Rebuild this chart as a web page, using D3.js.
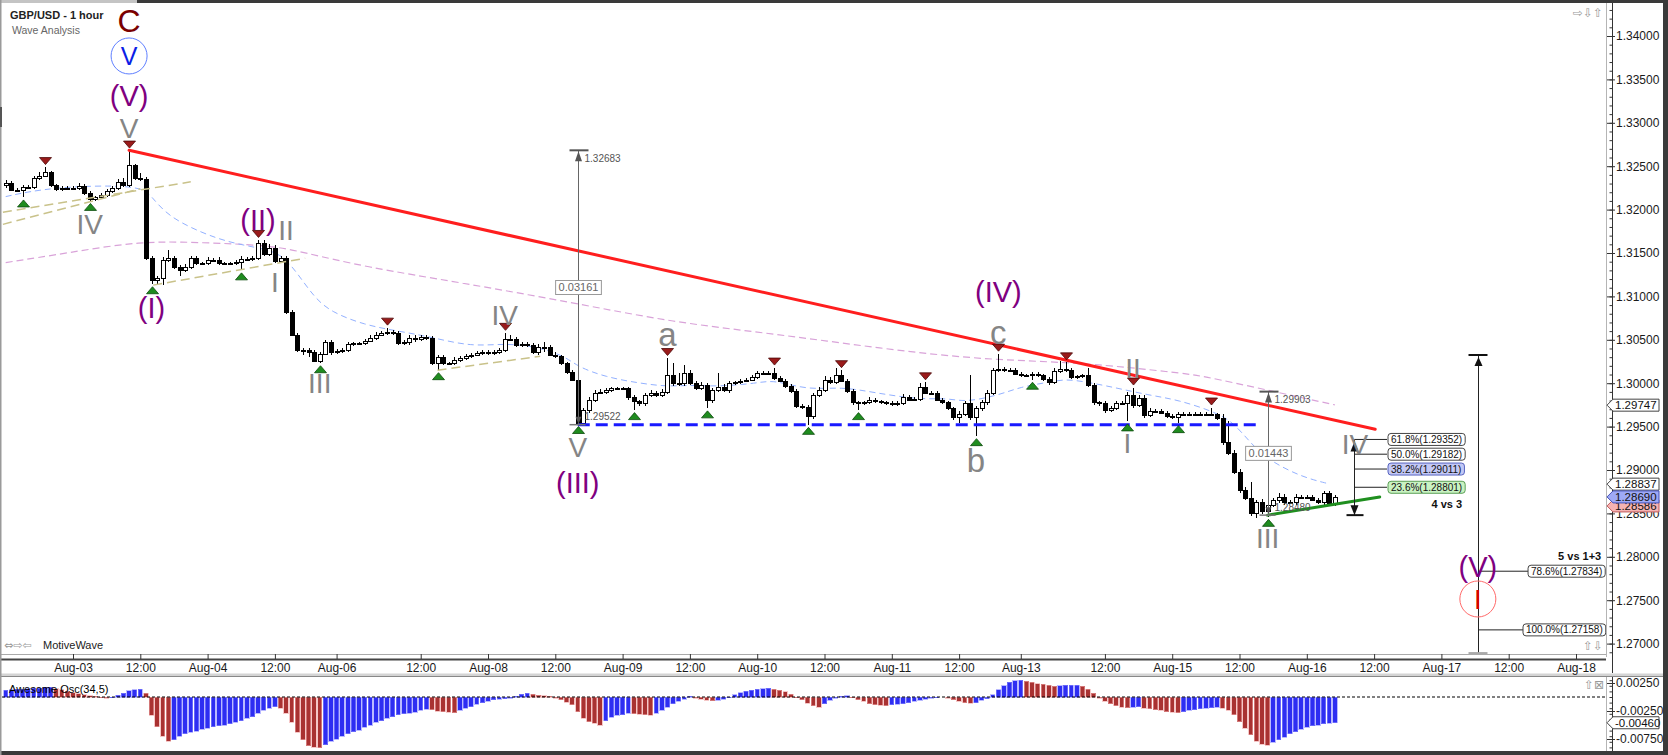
<!DOCTYPE html>
<html>
<head>
<meta charset="utf-8">
<title>GBP/USD - 1 hour</title>
<script src="https://cdn.jsdelivr.net/npm/d3@7/dist/d3.min.js"></script>
<style>
  html, body { margin: 0; padding: 0; background: #fff; }
  svg { display: block; }
</style>
</head>
<body>
<div id="chart"></div>
<script>
// hourly bars, index 0 = Aug-03 00:00, weekend hours skipped
const firstBar = -12;
const firstOpen = 1.3228;

const closes = [
  1.3231, 1.3223, 1.3223, 1.3226, 1.3226, 1.3236, 1.3239, 1.3243, 1.3228, 1.3224, 1.3225, 1.3225,
  1.3225, 1.3227, 1.3219, 1.3212, 1.3214, 1.3217, 1.3221, 1.3225, 1.3232, 1.3228, 1.3251, 1.3236,
  1.3235, 1.3144, 1.3119, 1.3121, 1.3142, 1.3144, 1.3134, 1.3130, 1.3134, 1.3144, 1.3138, 1.3138,
  1.3142, 1.3142, 1.3138, 1.3138, 1.3138, 1.3140, 1.3143, 1.3143, 1.3144, 1.3162, 1.3149, 1.3156,
  1.3141, 1.3144, 1.3082, 1.3056, 1.3038, 1.3038, 1.3036, 1.3026, 1.3034, 1.3047, 1.3036,
  1.3037, 1.3038, 1.3045,
  1.3046, 1.3046, 1.3049, 1.3052, 1.3056, 1.3058, 1.3059, 1.3058, 1.3046, 1.3047, 1.3052, 1.3051,
  1.3053, 1.3052, 1.3023, 1.3030, 1.3023, 1.3023, 1.3027, 1.3029, 1.3031, 1.3033, 1.3035, 1.3036,
  1.3035, 1.3036, 1.3038, 1.3051, 1.3051, 1.3044, 1.3045, 1.3044, 1.3036, 1.3042, 1.3042, 1.3033,
  1.3031, 1.3023, 1.3013, 1.3004, 1.2954, 1.2969, 1.2981, 1.2989, 1.2990, 1.2992, 1.2994, 1.2994,
  1.2994, 1.2984, 1.2979, 1.2977, 1.2986, 1.2989, 1.2986, 1.2990, 1.3009, 1.3000, 1.3000, 1.3012,
  1.3000, 1.2994, 1.2998, 1.2981, 1.2992, 1.2996, 1.2992, 1.3000, 1.3001, 1.3003, 1.3004, 1.3007,
  1.3012, 1.3012, 1.3012, 1.3006, 1.3003, 1.2997, 1.2991, 1.2974, 1.2973, 1.2962, 1.2986, 1.2992,
  1.3004, 1.3001, 1.3009, 1.3003, 1.2991, 1.2978, 1.2977, 1.2978, 1.2981, 1.2979, 1.2978, 1.2977,
  1.2976, 1.2977, 1.2984, 1.2981, 1.2982, 1.2996, 1.2989, 1.2989, 1.2981, 1.2978, 1.2971, 1.2961,
  1.2965, 1.2977, 1.2961, 1.2971, 1.2978, 1.2989, 1.3015, 1.3016, 1.3015, 1.3015, 1.3011,
  1.3009, 1.3009, 1.3011,
  1.3009, 1.3005, 1.3001, 1.3014, 1.3016, 1.3015, 1.3007, 1.3008, 1.3009, 1.2998, 1.2978, 1.2977,
  1.2969, 1.2971, 1.2977, 1.2977, 1.2986, 1.2975, 1.2983, 1.2963, 1.2968, 1.2968, 1.2966, 1.2962,
  1.2961, 1.2964, 1.2965, 1.2965, 1.2965, 1.2965, 1.2964, 1.2964, 1.2960, 1.2932, 1.2920, 1.2898,
  1.2877, 1.2868, 1.2850, 1.2863, 1.2853, 1.2860, 1.2865, 1.2869, 1.2863, 1.2863, 1.2869, 1.2869,
  1.2869, 1.2866, 1.2863, 1.2873, 1.2862, 1.2869
];

// wick lengths beyond the body, in pips
const upWicks = [
  3, 2, 2, 2, 2, 3, 4, 6, 2, 2, 2, 2,
  2, 4, 2, 2, 2, 2, 3, 2, 3, 4, 17, 2,
  6, 2, 2, 2, 3, 9, 2, 2, 3, 3, 3, 2,
  3, 2, 3, 2, 2, 2, 3, 2, 3, 3, 3, 4,
  3, 3, 2, 2, 2, 2, 2, 2, 2, 3, 3, 2,
  2, 3, 2, 2, 2, 3, 3, 2, 5, 2, 2, 3,
  3, 3, 3, 2, 2, 3, 2, 2, 3, 2, 3, 2,
  2, 2, 2, 2, 2, 7, 5, 2, 3, 2, 2, 3,
  5, 2, 3, 2, 2, 2, 2, 3, 3, 3, 3, 2,
  2, 2, 2, 2, 2, 2, 3, 3, 2, 3, 20, 14,
  12, 9, 3, 2, 3, 2, 3, 16, 3, 3, 2, 2,
  2, 3, 2, 2, 2, 6, 2, 2, 2, 2, 2, 2,
  3, 4, 4, 3, 8, 6, 2, 2, 2, 2, 3, 2,
  2, 2, 2, 2, 3, 2, 2, 4, 5, 2, 2, 2,
  2, 2, 3, 3, 32, 3, 3, 3, 3, 18, 3, 3,
  2, 2, 2, 2, 2, 2, 2, 3, 10, 8, 2, 2,
  2, 9, 2, 2, 2, 3, 3, 2, 4, 9, 3, 3,
  3, 2, 2, 2, 2, 3, 2, 2, 2, 2, 2, 8,
  2, 4, 25, 3, 3, 3, 18, 3, 4, 3, 3, 4,
  3, 3, 3, 2, 2, 2, 2, 3, 3, 2
];
const downWicks = [
  3, 2, 3, 9, 2, 2, 2, 2, 2, 2, 2, 2,
  2, 2, 2, 2, 2, 2, 2, 2, 2, 2, 2, 2,
  2, 2, 5, 6, 8, 2, 2, 6, 2, 2, 2, 2,
  2, 2, 2, 2, 2, 2, 10, 2, 2, 2, 3, 3,
  2, 3, 2, 2, 2, 5, 6, 2, 3, 2, 3, 2,
  2, 2, 2, 2, 2, 2, 2, 2, 2, 2, 2, 2,
  3, 3, 2, 2, 2, 8, 2, 2, 2, 2, 2, 2,
  2, 2, 2, 2, 2, 2, 2, 2, 2, 2, 2, 3,
  6, 2, 2, 2, 2, 2, 1, 1, 3, 3, 2, 2,
  2, 2, 2, 3, 10, 3, 3, 2, 2, 2, 3, 3,
  3, 3, 2, 2, 2, 10, 4, 2, 2, 3, 2, 2,
  2, 2, 2, 2, 2, 2, 2, 2, 2, 2, 3, 10,
  3, 2, 2, 2, 2, 2, 2, 3, 8, 2, 2, 2,
  2, 2, 2, 2, 2, 2, 2, 2, 2, 2, 2, 2,
  2, 3, 7, 3, 3, 22, 3, 3, 3, 2, 2, 2,
  2, 2, 2, 5, 2, 2, 3, 2, 2, 2, 2, 2,
  2, 2, 3, 3, 3, 2, 2, 2, 21, 3, 2, 3,
  2, 2, 2, 2, 2, 7, 2, 2, 2, 2, 2, 2,
  2, 3, 3, 3, 3, 3, 3, 5, 4, 7, 3, 3,
  3, 2, 3, 2, 2, 2, 2, 3, 3, 3
];

// Awesome Osc(34,5), one value per bar
const awesomeOsc = [
  0.0012, 0.0013, 0.0014, 0.0014, 0.0015, 0.0016, 0.0016, 0.0017, 0.0017, 0.0015, 0.0013, 0.0010,
  0.0008, 0.0006, 0.0004, 0.0002, 0.0001, -0.0001, -0.0002, -0.0001, 0.0003, 0.0007, 0.0011, 0.0013,
  0.0014, 0.0007, -0.0033, -0.0053, -0.0070, -0.0079, -0.0076, -0.0070, -0.0066, -0.0063, -0.0061, -0.0058,
  -0.0056, -0.0053, -0.0051, -0.0050, -0.0048, -0.0045, -0.0042, -0.0038, -0.0035, -0.0029, -0.0024, -0.0020,
  -0.0017, -0.0020, -0.0029, -0.0045, -0.0063, -0.0076, -0.0087, -0.0090, -0.0091, -0.0085, -0.0079, -0.0075,
  -0.0070, -0.0066, -0.0062, -0.0059, -0.0054, -0.0050, -0.0045, -0.0042, -0.0038, -0.0035, -0.0032, -0.0030,
  -0.0029, -0.0027, -0.0024, -0.0022, -0.0023, -0.0025, -0.0026, -0.0027, -0.0028, -0.0024, -0.0020, -0.0017,
  -0.0013, -0.0010, -0.0008, -0.0005, -0.0004, -0.0003, -0.0002, 0.0001, 0.0005, 0.0007, 0.0005, 0.0003,
  0.0002, 0.0001, -0.0002, -0.0005, -0.0009, -0.0014, -0.0026, -0.0038, -0.0044, -0.0047, -0.0050, -0.0042,
  -0.0036, -0.0033, -0.0032, -0.0029, -0.0030, -0.0031, -0.0032, -0.0033, -0.0029, -0.0024, -0.0018, -0.0012,
  -0.0008, -0.0004, 0.0001, -0.0002, -0.0004, -0.0006, -0.0007, -0.0006, -0.0004, -0.0001, 0.0004, 0.0008,
  0.0010, 0.0012, 0.0014, 0.0015, 0.0016, 0.0014, 0.0012, 0.0009, 0.0005, -0.0001, -0.0005, -0.0011,
  -0.0016, -0.0018, -0.0012, -0.0006, -0.0002, 0.0001, 0.0002, -0.0001, -0.0005, -0.0008, -0.0012, -0.0014,
  -0.0015, -0.0016, -0.0014, -0.0013, -0.0012, -0.0010, -0.0008, -0.0006, -0.0004, -0.0002, -0.0001, 0.0000,
  -0.0002, -0.0005, -0.0008, -0.0010, -0.0011, -0.0010, -0.0006, -0.0003, 0.0004, 0.0013, 0.0020, 0.0026,
  0.0029, 0.0030, 0.0028, 0.0026, 0.0024, 0.0023, 0.0021, 0.0019, 0.0020, 0.0021, 0.0021, 0.0021,
  0.0019, 0.0014, 0.0007, -0.0002, -0.0008, -0.0012, -0.0016, -0.0018, -0.0019, -0.0018, -0.0017, -0.0020,
  -0.0021, -0.0023, -0.0024, -0.0026, -0.0027, -0.0028, -0.0026, -0.0024, -0.0023, -0.0021, -0.0020, -0.0019,
  -0.0018, -0.0020, -0.0024, -0.0032, -0.0044, -0.0056, -0.0067, -0.0079, -0.0084, -0.0086, -0.0081, -0.0076,
  -0.0072, -0.0066, -0.0062, -0.0058, -0.0054, -0.0051, -0.0050, -0.0048, -0.0047, -0.0046
];

// moving averages: [bar, price]
const fastMA = [
  [-12, 1.3215], [-4, 1.3226], [12, 1.3229], [14, 1.3215], [17, 1.3192], [23, 1.3173], [28, 1.3162],
  [33, 1.3156], [37, 1.3150], [40, 1.3127], [43, 1.3099], [46, 1.3082], [52, 1.3067], [58, 1.3060],
  [64, 1.3053], [71, 1.3042], [77, 1.3046], [83, 1.3042], [88, 1.3030], [90, 1.3019], [95, 1.3007],
  [101, 1.3000], [106, 1.2996], [110, 1.2998], [115, 1.2996], [122, 1.3000], [125, 1.3004], [131, 1.2992],
  [137, 1.2996], [143, 1.2989], [151, 1.2981], [156, 1.2983], [159, 1.2978], [165, 1.2986], [169, 1.2996],
  [174, 1.3001], [177, 1.3005], [181, 1.3001], [185, 1.2996], [192, 1.2986], [197, 1.2981], [204, 1.2966],
  [207, 1.2954], [210, 1.2931], [213, 1.2912], [219, 1.2892], [224, 1.2884]
];
const slowMA = [
  [-12, 1.3139], [-1, 1.3150], [12, 1.3164], [23, 1.3162], [35, 1.3159], [41, 1.3151], [52, 1.3134],
  [69, 1.3116], [89, 1.3093], [107, 1.3070], [125, 1.3057], [144, 1.3040], [162, 1.3027], [180, 1.3024],
  [197, 1.3012], [201, 1.3009], [213, 1.2992], [225, 1.2975]
];

const xTicks = [
  { i: 0, label: 'Aug-03' }, { i: 12, label: '12:00' }, { i: 24, label: 'Aug-04' }, { i: 36, label: '12:00' },
  { i: 47, label: 'Aug-06' }, { i: 62, label: '12:00' }, { i: 74, label: 'Aug-08' }, { i: 86, label: '12:00' },
  { i: 98, label: 'Aug-09' }, { i: 110, label: '12:00' }, { i: 122, label: 'Aug-10' }, { i: 134, label: '12:00' },
  { i: 146, label: 'Aug-11' }, { i: 158, label: '12:00' }, { i: 169, label: 'Aug-13' }, { i: 184, label: '12:00' },
  { i: 196, label: 'Aug-15' }, { i: 208, label: '12:00' }, { i: 220, label: 'Aug-16' }, { i: 232, label: '12:00' },
  { i: 244, label: 'Aug-17' }, { i: 256, label: '12:00' }, { i: 268, label: 'Aug-18' }
];
const priceTicks = [1.270, 1.275, 1.280, 1.285, 1.290, 1.295, 1.300, 1.305, 1.310, 1.315, 1.320, 1.325, 1.330, 1.335, 1.340];
const oscTicks = [0.0025, -0.0025, -0.0075];

const pivots = [
  { i: -5, type: 'high' }, { i: 10, type: 'high' }, { i: 33, type: 'high' }, { i: 56, type: 'high' },
  { i: 77, type: 'high' }, { i: 106, type: 'high' }, { i: 125, type: 'high' }, { i: 137, type: 'high' },
  { i: 152, type: 'high' }, { i: 165, type: 'high' }, { i: 177, type: 'high' }, { i: 189, type: 'high' },
  { i: 203, type: 'high' },
  { i: -9, type: 'low' }, { i: 3, type: 'low' }, { i: 14, type: 'low' }, { i: 30, type: 'low' },
  { i: 44, type: 'low' }, { i: 65, type: 'low' }, { i: 90, type: 'low' }, { i: 100, type: 'low' },
  { i: 113, type: 'low' }, { i: 131, type: 'low' }, { i: 140, type: 'low' }, { i: 161, type: 'low' },
  { i: 171, type: 'low' }, { i: 188, type: 'low' }, { i: 197, type: 'low' }, { i: 213, type: 'low' }
];

const waveLabels = [
  { i: 10, p: 1.34184, text: 'C', degree: 'cycle' },
  { i: 10, p: 1.33770, text: 'V', degree: 'primary' },
  { i: 10, p: 1.33309, text: '(V)', degree: 'intermediate' },
  { i: 10, p: 1.32940, text: 'V', degree: 'minor' },
  { i: 3, p: 1.31834, text: 'IV', degree: 'minor' },
  { i: 14, p: 1.30866, text: '(I)', degree: 'intermediate' },
  { i: 33, p: 1.31880, text: '(II)', degree: 'intermediate' },
  { i: 38, p: 1.31765, text: 'II', degree: 'minor' },
  { i: 36, p: 1.31166, text: 'I', degree: 'minor' },
  { i: 44, p: 1.30002, text: 'III', degree: 'minor' },
  { i: 77, p: 1.30786, text: 'IV', degree: 'minor' },
  { i: 90, p: 1.29265, text: 'V', degree: 'minor' },
  { i: 90, p: 1.28850, text: '(III)', degree: 'intermediate' },
  { i: 106, p: 1.30532, text: 'a', degree: 'minor' },
  { i: 165, p: 1.31051, text: '(IV)', degree: 'intermediate' },
  { i: 165, p: 1.30555, text: 'c', degree: 'minor' },
  { i: 161, p: 1.29115, text: 'b', degree: 'minor' },
  { i: 189, p: 1.30175, text: 'II', degree: 'minor' },
  { i: 188, p: 1.29311, text: 'I', degree: 'minor' },
  { i: 213, p: 1.28216, text: 'III', degree: 'minor' },
  { i: 228.6, p: 1.29299, text: 'IV', degree: 'minor' },
  { i: 250.5, p: 1.27882, text: '(V)', degree: 'intermediate' },
  { i: 250.5, p: 1.27514, text: 'I', degree: 'next' }
];

const trendLines = [
  { kind: 'resistance', from: [10, 1.32683], to: [232.2, 1.29469] },
  { kind: 'support', from: [213, 1.28480], to: [233, 1.28690] }
];
const channelLines = [
  [[-12.5, 1.3197], [21, 1.3232]],
  [[-12.5, 1.3183], [12, 1.3224]],
  [[14.3, 1.3113], [41.4, 1.3144]],
  [[65, 1.3015], [83.3, 1.3031]]
];
const levels = [{ p: 1.29522, from: 90, to: 211.3 }];

const measures = [
  { i: 90, top: 1.32683, bottom: 1.29522, text: '0.03161' },
  { i: 213.1, top: 1.29903, bottom: 1.28480, text: '0.01443' }
];
const fibRetrace = {
  i: 228.4, end: 234.3, bottom: 1.28480,
  levels: [
    { label: '61.8%', p: 1.29352, tone: 'plain' },
    { label: '50.0%', p: 1.29182, tone: 'plain' },
    { label: '38.2%', p: 1.29011, tone: 'blue' },
    { label: '23.6%', p: 1.28801, tone: 'green' }
  ]
};
const fibExtension = {
  i: 250.5, top: 1.30325, bottom: 1.26891,
  levels: [
    { label: '78.6%', p: 1.27834, end: 259.45, tone: 'plain' },
    { label: '100.0%', p: 1.27158, end: 258.55, tone: 'plain' }
  ]
};
const fibNotes = [
  { text: '4 vs 3', i: 247.7, p: 1.28608 },
  { text: '5 vs 1+3', i: 272.5, p: 1.28009 }
];
const priceTags = [
  { p: 1.29747, tone: 'plain' }, { p: 1.28837, tone: 'plain' },
  { p: 1.28586, tone: 'ask' }, { p: 1.28690, tone: 'bid' }
];
const oscTags = [{ v: -0.0046, tone: 'plain' }];

// ---------------------------------------------------------------------------
const W = 1668, H = 755;
const FONT = '"Liberation Sans", Arial, Helvetica, sans-serif';
const plot = { left: 2, right: 1606, top: 3, bottom: 654 };
const oscBox = { top: 677, bottom: 751 };
const axisX = 1612;
const pip = 0.0001;

const x = d3.scaleLinear().domain([0, 268]).range([73, 1576]);
const y = d3.scaleLinear().domain([1.27, 1.34]).range([643.6, 36]);
const yo = d3.scaleLinear().domain([-0.0075, 0.0025]).range([739, 683]);

const bars = closes.map((c, k) => {
  const o = k ? closes[k - 1] : firstOpen;
  return {
    i: firstBar + k, o, c,
    h: Math.max(o, c) + upWicks[k] * pip,
    l: Math.min(o, c) - downWicks[k] * pip,
    ao: awesomeOsc[k],
    aoUp: k === 0 || awesomeOsc[k] >= awesomeOsc[k - 1]
  };
});
const barAt = i => bars[i - firstBar];

const waveStyle = {
  cycle: { color: '#7a0000', size: 32 },
  primary: { color: '#0b1ee6', size: 25, ring: '#5f7fff' },
  intermediate: { color: '#800080', size: 29 },
  minor: { color: '#858585', size: 28 },
  next: { color: '#d40000', size: 27, ring: '#ff6a6a' }
};
const tone = {
  plain: { fill: '#fff', stroke: '#444' },
  blue: { fill: '#c3c8f5', stroke: '#5663c0' },
  green: { fill: '#c9f2c2', stroke: '#5a9e55' },
  bid: { fill: '#9ea9f6', stroke: '#4451b8' },
  ask: { fill: '#f5b3b3', stroke: '#c05a5a' }
};

const svg = d3.select('#chart').append('svg')
  .attr('width', W).attr('height', H)
  .attr('font-family', FONT);

svg.append('rect').attr('width', W).attr('height', H).attr('fill', '#fff');

const defs = svg.append('defs');
defs.append('clipPath').attr('id', 'clip-main').append('rect')
  .attr('x', plot.left).attr('y', plot.top)
  .attr('width', plot.right - plot.left).attr('height', plot.bottom - plot.top);
defs.append('clipPath').attr('id', 'clip-osc').append('rect')
  .attr('x', plot.left).attr('y', oscBox.top)
  .attr('width', plot.right - plot.left).attr('height', oscBox.bottom - oscBox.top);

const main = svg.append('g').attr('clip-path', 'url(#clip-main)');

// moving averages
const maLine = d3.line().x(d => x(d[0])).y(d => y(d[1])).curve(d3.curveBasis);
main.append('path').attr('d', maLine(slowMA))
  .attr('fill', 'none').attr('stroke', '#d9a3d9').attr('stroke-width', 1.2).attr('stroke-dasharray', '7,4');
main.append('path').attr('d', maLine(fastMA))
  .attr('fill', 'none').attr('stroke', '#93b1ff').attr('stroke-width', 1).attr('stroke-dasharray', '6,4');

// candles
const candle = main.append('g').attr('shape-rendering', 'crispEdges')
  .selectAll('g').data(bars).join('g');
candle.append('line')
  .attr('x1', d => Math.round(x(d.i)) + 0.5).attr('x2', d => Math.round(x(d.i)) + 0.5)
  .attr('y1', d => y(d.h)).attr('y2', d => y(d.l))
  .attr('stroke', '#000');
candle.append('rect')
  .attr('x', d => Math.round(x(d.i)) - 1.5)
  .attr('width', 4)
  .attr('y', d => Math.round(y(Math.max(d.o, d.c))) + 0.5)
  .attr('height', d => Math.max(1, Math.round(y(Math.min(d.o, d.c))) - Math.round(y(Math.max(d.o, d.c)))))
  .attr('fill', d => d.c < d.o ? '#000' : '#fff')
  .attr('stroke', '#000');

// channel lines
main.selectAll('.channel').data(channelLines).join('line')
  .attr('x1', d => x(d[0][0])).attr('y1', d => y(d[0][1]))
  .attr('x2', d => x(d[1][0])).attr('y2', d => y(d[1][1]))
  .attr('stroke', '#c9c28a').attr('stroke-width', 1.5).attr('stroke-dasharray', '9,5');

// horizontal level
main.selectAll('.level').data(levels).join('line')
  .attr('x1', d => x(d.from)).attr('x2', d => x(d.to))
  .attr('y1', d => y(d.p)).attr('y2', d => y(d.p))
  .attr('stroke', '#1a1aff').attr('stroke-width', 3).attr('stroke-dasharray', '12,6');

// trend lines
main.selectAll('.trend').data(trendLines).join('line')
  .attr('x1', d => x(d.from[0])).attr('y1', d => y(d.from[1]))
  .attr('x2', d => x(d.to[0])).attr('y2', d => y(d.to[1]))
  .attr('stroke', d => d.kind === 'resistance' ? '#ff1e1e' : '#1f8f1f')
  .attr('stroke-width', 3).attr('stroke-linecap', 'round');

// pivot markers
main.selectAll('.pivot').data(pivots).join('path')
  .attr('d', d => {
    const b = barAt(d.i);
    const cx = Math.round(x(d.i)) + 0.5;
    if (d.type === 'high') {
      const cy = y(b.h) - 6;
      return `M${cx - 6},${cy - 3.5}L${cx + 6},${cy - 3.5}L${cx},${cy + 3.5}Z`;
    }
    const cy = y(b.l) + 6;
    return `M${cx - 6},${cy + 3.5}L${cx + 6},${cy + 3.5}L${cx},${cy - 3.5}Z`;
  })
  .attr('fill', d => d.type === 'high' ? '#9a1b1b' : '#1f8c1f')
  .attr('stroke', d => d.type === 'high' ? '#4a0606' : '#0b4a0b')
  .attr('stroke-width', 0.8);

// measurements
const meas = main.append('g');
measures.forEach(m => {
  const cx = Math.round(x(m.i)) + 0.5;
  const yt = y(m.top), yb = y(m.bottom);
  meas.append('line').attr('x1', cx).attr('x2', cx).attr('y1', yt).attr('y2', yb).attr('stroke', '#666');
  meas.append('line').attr('x1', cx - 9).attr('x2', cx + 10).attr('y1', yt).attr('y2', yt)
    .attr('stroke', '#555').attr('stroke-width', 2);
  meas.append('line').attr('x1', cx - 9).attr('x2', cx + 7).attr('y1', yb).attr('y2', yb)
    .attr('stroke', '#777').attr('stroke-width', 1.5);
  meas.append('path').attr('d', `M${cx},${yt + 1}L${cx - 3.5},${yt + 11}L${cx + 3.5},${yt + 11}Z`).attr('fill', '#555');
  meas.append('path').attr('d', `M${cx},${yb - 1}L${cx - 3},${yb - 8}L${cx + 3},${yb - 8}Z`).attr('fill', '#555');
  meas.append('text').attr('x', cx + 6).attr('y', yt + 8).attr('dy', '0.35em')
    .attr('font-size', 10).attr('fill', '#555').text(m.top.toFixed(5));
  meas.append('text').attr('x', cx + 6).attr('y', yb - 8).attr('dy', '0.35em')
    .attr('font-size', 10).attr('fill', '#555').text(m.bottom.toFixed(5));
  const my = (yt + yb) / 2;
  const box = meas.append('rect').attr('fill', '#fff').attr('stroke', '#999');
  const t = meas.append('text').attr('x', cx).attr('y', my).attr('dy', '0.36em')
    .attr('text-anchor', 'middle').attr('font-size', 11).attr('fill', '#666').text(m.text);
  const w = t.node().getComputedTextLength() + 6;
  box.attr('x', cx - w / 2).attr('y', my - 7).attr('width', w).attr('height', 14);
});

// fibonacci boxes
function fibBox(g, x0, yv, text, toneName) {
  const st = tone[toneName];
  const r = g.append('rect').attr('rx', 3).attr('ry', 3).attr('fill', st.fill).attr('stroke', st.stroke);
  const t = g.append('text').attr('x', x0 + 3).attr('y', yv).attr('dy', '0.36em')
    .attr('font-size', 10).attr('fill', '#111').text(text);
  const w = t.node().getComputedTextLength() + 6;
  r.attr('x', x0).attr('y', yv - 6).attr('width', w).attr('height', 12);
}

const fib = main.append('g');
{
  const fx = Math.round(x(fibRetrace.i)) + 0.5;
  const yt = y(fibRetrace.levels[0].p), yb = y(fibRetrace.bottom);
  fib.append('line').attr('x1', fx).attr('x2', fx).attr('y1', yt).attr('y2', yb).attr('stroke', '#222');
  fib.append('path').attr('d', `M${fx},${yt + 2}L${fx - 4},${yt + 12}L${fx + 4},${yt + 12}Z`).attr('fill', '#111');
  fib.append('path').attr('d', `M${fx},${yb}L${fx - 4},${yb - 10}L${fx + 4},${yb - 10}Z`).attr('fill', '#111');
  fib.append('line').attr('x1', fx - 8).attr('x2', fx + 9).attr('y1', yb).attr('y2', yb)
    .attr('stroke', '#111').attr('stroke-width', 2);
  const xe = x(fibRetrace.end);
  fibRetrace.levels.forEach(l => {
    fib.append('line').attr('x1', fx).attr('x2', xe).attr('y1', y(l.p)).attr('y2', y(l.p)).attr('stroke', '#222');
    fibBox(fib, xe + 1, y(l.p), `${l.label}(${l.p.toFixed(5)})`, l.tone);
  });
}
{
  const fx = Math.round(x(fibExtension.i)) + 0.5;
  const yt = y(fibExtension.top), yb = y(fibExtension.bottom);
  fib.append('line').attr('x1', fx).attr('x2', fx).attr('y1', yt).attr('y2', yb).attr('stroke', '#222');
  fib.append('line').attr('x1', fx - 10).attr('x2', fx + 9).attr('y1', yt).attr('y2', yt)
    .attr('stroke', '#111').attr('stroke-width', 2);
  fib.append('path').attr('d', `M${fx},${yt + 2}L${fx - 4},${yt + 11}L${fx + 4},${yt + 11}Z`).attr('fill', '#111');
  fib.append('line').attr('x1', fx - 10).attr('x2', fx + 9).attr('y1', yb).attr('y2', yb)
    .attr('stroke', '#aaa').attr('stroke-width', 2);
  fibExtension.levels.forEach(l => {
    const xe = x(l.end);
    fib.append('line').attr('x1', fx).attr('x2', xe).attr('y1', y(l.p)).attr('y2', y(l.p)).attr('stroke', '#222');
    fibBox(fib, xe, y(l.p), `${l.label}(${l.p.toFixed(5)})`, l.tone);
  });
}
fib.selectAll('.note').data(fibNotes).join('text')
  .attr('x', d => x(d.i)).attr('y', d => y(d.p)).attr('dy', '0.36em')
  .attr('text-anchor', 'end').attr('font-size', 11).attr('font-weight', 'bold').attr('fill', '#111')
  .text(d => d.text);

// wave labels
const wave = main.append('g');
waveLabels.forEach(d => {
  const st = waveStyle[d.degree];
  const cx = x(d.i), cy = y(d.p);
  if (st.ring) {
    wave.append('circle').attr('cx', cx).attr('cy', cy).attr('r', 18)
      .attr('fill', 'none').attr('stroke', st.ring).attr('stroke-width', 1);
  }
  const lower = /^[a-z]$/.test(d.text);
  wave.append('text').attr('x', cx).attr('y', cy)
    .attr('dy', lower && d.text !== 'b' ? '0.26em' : '0.36em')
    .attr('text-anchor', 'middle')
    .attr('font-size', lower ? 33 : st.size)
    .attr('fill', st.color)
    .text(d.text);
});

// oscillator
const osc = svg.append('g').attr('clip-path', 'url(#clip-osc)');
osc.append('g').attr('shape-rendering', 'crispEdges')
  .selectAll('rect').data(bars).join('rect')
  .attr('x', d => x(d.i) - 2.2).attr('width', 4.4)
  .attr('y', d => Math.min(yo(d.ao), yo(0)))
  .attr('height', d => Math.abs(yo(d.ao) - yo(0)))
  .attr('fill', d => d.aoUp ? '#2e2ef2' : '#a93232')
  .attr('stroke', d => d.aoUp ? '#8c8cff' : '#efa3a3')
  .attr('stroke-width', 0.6);
osc.append('line').attr('x1', plot.left).attr('x2', plot.right)
  .attr('y1', yo(0)).attr('y2', yo(0))
  .attr('stroke', '#000').attr('stroke-dasharray', '3,2');
svg.append('text').attr('x', 9).attr('y', 693).attr('font-size', 11).attr('fill', '#000')
  .text('Awesome Osc(34,5)');

// frame and separators
svg.append('line').attr('x1', 0).attr('x2', plot.right).attr('y1', plot.bottom + 0.5).attr('y2', plot.bottom + 0.5)
  .attr('stroke', '#aaa');
svg.append('line').attr('x1', 0).attr('x2', plot.right).attr('y1', 659.5).attr('y2', 659.5)
  .attr('stroke', '#444').attr('stroke-width', 2);
svg.append('rect').attr('x', 0).attr('y', 673.5).attr('width', 1663).attr('height', 3).attr('fill', '#d4d4d4');
svg.append('line').attr('x1', 0).attr('x2', 1663).attr('y1', 676.5).attr('y2', 676.5).attr('stroke', '#888');
svg.append('line').attr('x1', plot.right + 0.5).attr('x2', plot.right + 0.5).attr('y1', plot.top).attr('y2', 657)
  .attr('stroke', '#b5b5b5');
svg.append('line').attr('x1', plot.right + 0.5).attr('x2', plot.right + 0.5).attr('y1', oscBox.top).attr('y2', oscBox.bottom)
  .attr('stroke', '#b5b5b5');
svg.append('line').attr('x1', axisX + 0.5).attr('x2', axisX + 0.5).attr('y1', plot.top).attr('y2', 673)
  .attr('stroke', '#333');
svg.append('line').attr('x1', axisX + 0.5).attr('x2', axisX + 0.5).attr('y1', oscBox.top).attr('y2', oscBox.bottom)
  .attr('stroke', '#333');
svg.append('rect').attr('x', 0).attr('y', 0).attr('width', 137).attr('height', 3).attr('fill', '#c4c4c4');
svg.append('rect').attr('x', 137).attr('y', 0).attr('width', W - 137).attr('height', 3).attr('fill', '#3a3a3a');
svg.append('rect').attr('x', 1663).attr('y', 0).attr('width', 5).attr('height', H).attr('fill', '#3a3a3a');
svg.append('rect').attr('x', 0).attr('y', 751).attr('width', W).attr('height', 4).attr('fill', '#3a3a3a');
svg.append('rect').attr('x', 0).attr('y', 0).attr('width', 1.5).attr('height', H).attr('fill', '#9a9a9a');
svg.append('rect').attr('x', 0).attr('y', 107).attr('width', 2).attr('height', 20).attr('fill', '#555');

// axes
function styleAxis(g) {
  g.select('.domain').remove();
  g.selectAll('.tick line').attr('stroke', '#333');
  g.selectAll('.tick text').attr('fill', '#1a1a1a');
  g.attr('font-family', FONT).attr('font-size', 12);
}
const minorPrice = d3.range(1269, 1344).map(v => v / 1000);
svg.append('g').attr('transform', `translate(${axisX + 0.5},0)`)
  .call(d3.axisLeft(y).tickValues(minorPrice).tickSize(3).tickFormat(''))
  .call(styleAxis);
svg.append('g').attr('transform', `translate(${plot.right + 1},0)`)
  .call(d3.axisRight(y).tickValues(priceTicks).tickSize(8).tickPadding(1).tickFormat(d => d.toFixed(5)))
  .call(styleAxis);

const minorOsc = d3.range(-9, 4).map(v => v / 1000);
svg.append('g').attr('transform', `translate(${axisX + 0.5},0)`)
  .call(d3.axisLeft(yo).tickValues(minorOsc).tickSize(3).tickFormat(''))
  .call(styleAxis);
svg.append('g').attr('transform', `translate(${plot.right + 1},0)`)
  .call(d3.axisRight(yo).tickValues(oscTicks).tickSize(8).tickPadding(1).tickFormat(d => d.toFixed(5)))
  .call(styleAxis);

svg.append('g').attr('transform', 'translate(0,659)')
  .call(d3.axisBottom(x).tickValues(xTicks.map(d => d.i)).tickSize(-5).tickPadding(4)
    .tickFormat((d, k) => xTicks[k].label))
  .call(styleAxis);

// value tags on the axis
function tag(yv, text, toneName) {
  const st = tone[toneName];
  const g = svg.append('g');
  g.append('path')
    .attr('d', `M1607,${yv}L1613,${yv - 6}H1659V${yv + 6}H1613Z`)
    .attr('fill', st.fill).attr('stroke', st.stroke);
  g.append('text').attr('x', 1615).attr('y', yv).attr('dy', '0.36em')
    .attr('font-size', 11.5).attr('fill', '#111').text(text);
}
priceTags.forEach(d => tag(y(d.p), d.p.toFixed(5), d.tone));
oscTags.forEach(d => tag(yo(d.v), d.v.toFixed(5), d.tone));

// titles and icons
svg.append('text').attr('x', 10).attr('y', 19).attr('font-size', 11).attr('font-weight', 'bold')
  .attr('fill', '#222').text('GBP/USD - 1 hour');
svg.append('text').attr('x', 12).attr('y', 34).attr('font-size', 10.5).attr('fill', '#666')
  .text('Wave Analysis');
svg.append('text').attr('x', 4).attr('y', 649).attr('font-size', 11).attr('fill', '#999')
  .attr('font-family', 'DejaVu Sans').text('\u21D4\u21E8\u21E6');
svg.append('text').attr('x', 43).attr('y', 649).attr('font-size', 11).attr('fill', '#222').text('MotiveWave');
svg.append('text').attr('x', 1603).attr('y', 17).attr('text-anchor', 'end').attr('font-size', 12)
  .attr('fill', '#999').attr('font-family', 'DejaVu Sans').text('\u21E8\u21E9\u21E7');
svg.append('text').attr('x', 1603).attr('y', 650).attr('text-anchor', 'end').attr('font-size', 12)
  .attr('fill', '#999').attr('font-family', 'DejaVu Sans').text('\u21E7\u21E9');
svg.append('text').attr('x', 1604).attr('y', 689).attr('text-anchor', 'end').attr('font-size', 12)
  .attr('fill', '#999').attr('font-family', 'DejaVu Sans').text('\u21E7\u22A0');
</script>
</body>
</html>
